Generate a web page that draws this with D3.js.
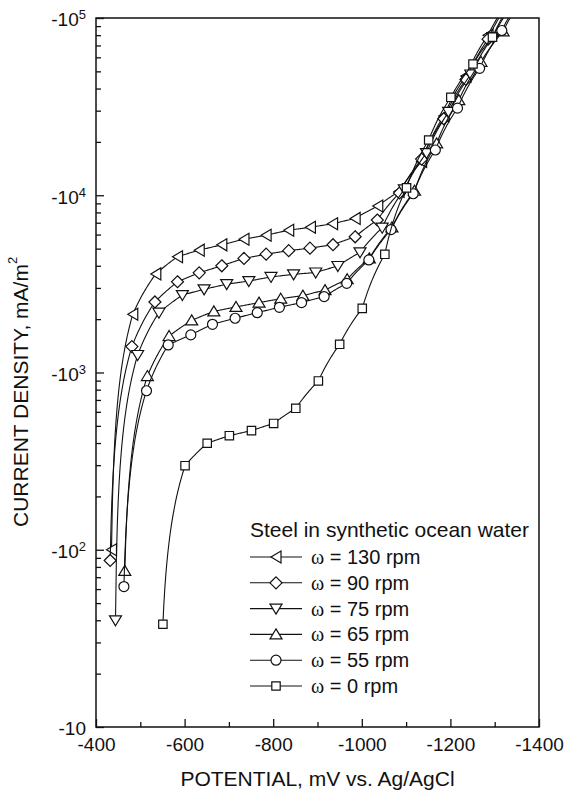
<!DOCTYPE html>
<html><head><meta charset="utf-8">
<script src="https://cdn.jsdelivr.net/npm/d3@7"></script>
<style>body{margin:0;background:#fff} svg{display:block}</style>
</head><body><svg id="c" width="565" height="791"></svg>
<script>
// ---- data ----
const rpmLabels = ["130", "90", "75", "65", "55", "0"];
const symbols = ["left", "diamond", "down", "up", "circle", "square"];

const v130 = [-435,-483,-535,-584,-633,-684,-734,-784,-835,-884,-934,-985,-1036,-1084,-1135,-1185,-1235,-1285,-1335];
const i130 = [100,2130,3600,4500,4900,5250,5650,5950,6350,6600,6900,7400,8700,10500,15500,28000,47000,80000,128000];

const v90 = [-432,-481,-533,-584,-633,-684,-734,-784,-835,-883,-935,-985,-1035,-1085,-1135,-1185,-1235,-1285,-1335];
const i90 = [87,1400,2500,3250,3650,4000,4400,4650,4870,5030,5260,5830,7250,10300,16000,27000,45000,76000,125000];

const v75 = [-444,-494,-542,-595,-644,-695,-745,-795,-846,-896,-946,-996,-1046,-1096,-1146,-1196,-1246,-1296,-1346];
const i75 = [40,1255,2175,2735,2945,3150,3280,3460,3580,3665,3990,4765,6560,10800,17300,29500,48000,78000,125000];

const v65 = [-465,-516,-565,-616,-666,-716,-768,-817,-867,-917,-967,-1017,-1068,-1119,-1169,-1219,-1269,-1319,-1369];
const i65 = [76,955,1606,1968,2213,2343,2478,2608,2715,2917,3358,4405,6590,10600,19600,34400,56600,84000,135000];

const v55 = [-463,-514,-563,-614,-663,-714,-764,-814,-864,-915,-966,-1016,-1066,-1116,-1166,-1216,-1266,-1316,-1366];
const i55 = [62,789,1430,1630,1870,2023,2175,2333,2478,2680,3186,4315,6400,10200,18000,31000,52000,85000,135000];

const v0 = [-551,-601,-651,-701,-751,-801,-851,-902,-950,-1001,-1052,-1101,-1151,-1201,-1251,-1295,-1345];
const i0 = [38,298,399,440,470,516,628,896,1442,2300,4645,11000,20500,35700,55000,78000,130000];

const potentials = [v130, v90, v75, v65, v55, v0];
const currents = [i130, i90, i75, i65, i55, i0];

const xTicks = [-400, -600, -800, -1000, -1200, -1400];
const xMinorTicks = [-500, -700, -900, -1100, -1300];
const yTicks = [10, 100, 1000, 10000, 100000];
const yTickExponents = ["", "2", "3", "4", "5"];
const legendTitle = "Steel in synthetic ocean water";
const xTitle = "POTENTIAL, mV vs. Ag/AgCl";
const yTitle = "CURRENT DENSITY, mA/m";

// ---- layout ----
const L = 96, R = 539, T = 18, B = 727;
const svg = d3.select("#c");
const FONT = "'Liberation Sans', Arial, Helvetica, sans-serif";
const INK = "#111";

const x = d3.scaleLinear().domain([-400, -1400]).range([L, R]);
const y = d3.scaleLog().domain([10, 1e5]).range([B, T]);

svg.append("defs").append("clipPath").attr("id", "clip")
  .append("rect").attr("x", L).attr("y", T).attr("width", R - L).attr("height", B - T);

// minor y ticks
const yMinor = [];
[10, 100, 1000, 10000].forEach(d => { for (let k = 2; k <= 9; k++) yMinor.push(d * k); });

// axes
const xAxis = svg.append("g").attr("transform", `translate(0,${B})`)
  .call(d3.axisBottom(x).tickValues(xTicks).tickSize(-8).tickPadding(11).tickFormat(d => String(d)));
svg.append("g").attr("transform", `translate(0,${B})`)
  .call(d3.axisBottom(x).tickValues(xMinorTicks).tickSize(-5).tickFormat(""));
const yAxis = svg.append("g").attr("transform", `translate(${L},0)`)
  .call(d3.axisLeft(y).tickValues(yTicks).tickSize(-8).tickPadding(10).tickFormat(""));
svg.append("g").attr("transform", `translate(${L},0)`)
  .call(d3.axisLeft(y).tickValues(yMinor).tickSize(-5).tickFormat(""));

svg.selectAll(".domain").remove();
svg.selectAll(".tick line").attr("stroke", INK).attr("stroke-width", 1.3);
xAxis.selectAll("text").attr("font-family", FONT).attr("font-size", 19).attr("fill", INK);

// y tick labels with superscripts
yAxis.selectAll(".tick").each(function(d, i) {
  const t = d3.select(this).select("text")
    .attr("font-family", FONT).attr("font-size", 19).attr("fill", INK)
    .attr("text-anchor", "end").attr("dy", "0.42em").text(null);
  t.append("tspan").text("-10");
  const e = yTickExponents[yTicks.indexOf(d)];
  if (e) t.append("tspan").attr("font-size", 13).attr("dy", -7).text(e);
});

// frame
svg.append("rect").attr("x", L).attr("y", T).attr("width", R - L).attr("height", B - T)
  .attr("fill", "none").attr("stroke", INK).attr("stroke-width", 1.5);

// axis titles
svg.append("text").attr("x", (L + R) / 2).attr("y", 786).attr("text-anchor", "middle")
  .attr("font-family", FONT).attr("font-size", 21).attr("fill", INK).text(xTitle);
const yt = svg.append("text").attr("transform", "translate(28,527) rotate(-90)")
  .attr("text-anchor", "start").attr("font-family", FONT).attr("font-size", 21).attr("fill", INK);
yt.append("tspan").text(yTitle);
yt.append("tspan").attr("font-size", 13).attr("dy", -11).text("2");

// markers
function symbolPath(s) {
  switch (s) {
    case "left": return "M-5,0L5,-6L5,6Z";
    case "up": return "M0,-5.5L6,4.5L-6,4.5Z";
    case "down": return "M0,5.5L6,-4.5L-6,-4.5Z";
    case "diamond": return "M0,-6L6,0L0,6L-6,0Z";
    case "square": return "M-4.2,-4.2H4.2V4.2H-4.2Z";
    case "circle": return d3.symbol(d3.symbolCircle, Math.PI * 25)();
  }
}

// line rendering: segments interpolated linearly in current (data space)
function renderPoints(vs, is) {
  const out = [];
  for (let j = 0; j < vs.length - 1; j++) {
    const n = 24;
    for (let k = 0; k < n; k++) {
      const t = k / n;
      out.push([vs[j] + (vs[j + 1] - vs[j]) * t, is[j] + (is[j + 1] - is[j]) * t]);
    }
  }
  out.push([vs[vs.length - 1], is[is.length - 1]]);
  return out;
}
const line = d3.line().x(d => x(d[0])).y(d => y(d[1]));

const plot = svg.append("g").attr("clip-path", "url(#clip)");
potentials.forEach((vs, s) => {
  const is = currents[s];
  const g = plot.append("g");
  g.append("path").attr("d", line(renderPoints(vs, is)))
    .attr("fill", "none").attr("stroke", INK).attr("stroke-width", 1.1);
  g.selectAll("path.m").data(vs.map((v, k) => [v, is[k]])).join("path").attr("class", "m")
    .attr("d", symbolPath(symbols[s]))
    .attr("transform", d => `translate(${x(d[0])},${y(d[1])})`)
    .attr("fill", "#fff").attr("stroke", INK).attr("stroke-width", 1.2);
});

// legend
const lg = svg.append("g");
lg.append("text").attr("x", 250).attr("y", 537).attr("font-family", FONT).attr("font-size", 21)
  .attr("fill", INK).text(legendTitle);
rpmLabels.forEach((r, k) => {
  const yy = 557 + k * 25.8;
  lg.append("line").attr("x1", 250).attr("x2", 302).attr("y1", yy).attr("y2", yy)
    .attr("stroke", INK).attr("stroke-width", 1.1);
  lg.append("path").attr("d", symbolPath(symbols[k])).attr("transform", `translate(276,${yy})`)
    .attr("fill", "#fff").attr("stroke", INK).attr("stroke-width", 1.2);
  const t = lg.append("text").attr("x", 311).attr("y", yy + 7).attr("font-family", FONT)
    .attr("font-size", 20).attr("fill", INK);
  t.append("tspan").attr("font-family", "'Liberation Serif', 'Times New Roman', serif").text("ω");
  t.append("tspan").text(` = ${r} rpm`);
});
</script>
</body></html>
